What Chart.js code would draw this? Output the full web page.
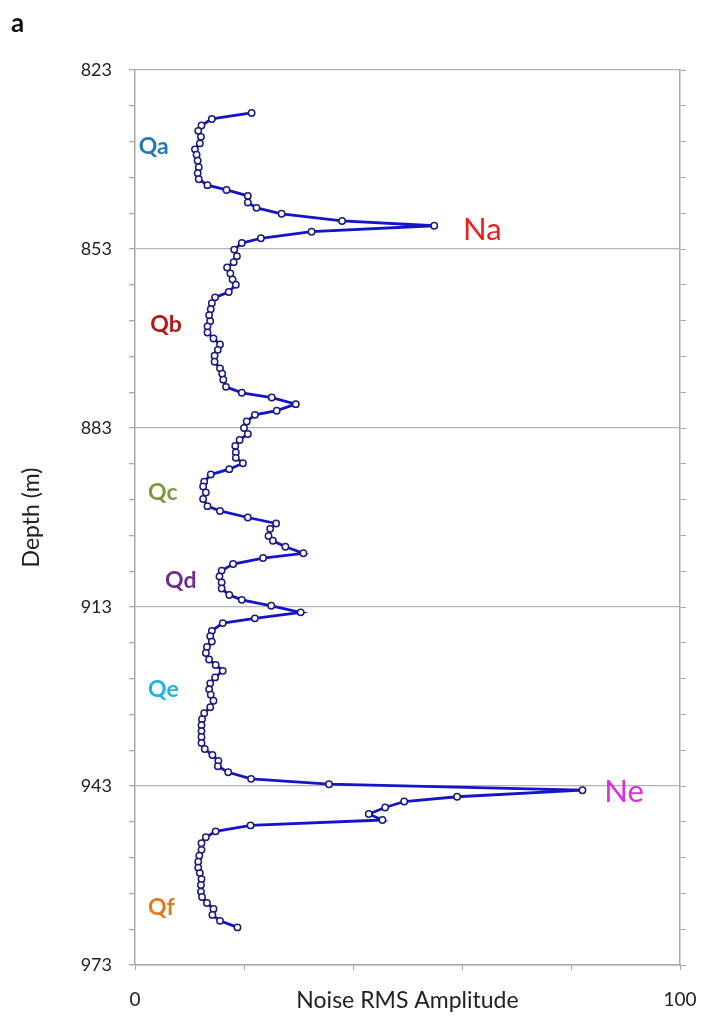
<!DOCTYPE html>
<html>
<head>
<meta charset="utf-8">
<script src="https://cdn.jsdelivr.net/npm/chart.js@4/dist/chart.umd.min.js"></script>
<style>
  html, body { margin: 0; padding: 0; background: #fff; }
  #wrap { position: relative; width: 703px; height: 1022px; }
</style>
</head>
<body>
<div id="wrap"><canvas id="chart"></canvas></div>
<script>
// depth (m) of each sample
const depths = [
  830.2, 831.2, 832.3, 833.2, 834.2, 835.3, 836.3, 837.2, 838.2, 839.3,
  840.3, 841.3, 842.3, 843.1, 844.1, 845.2, 846.1, 847.1, 848.3, 849.1,
  850.1, 851.2, 852.0, 853.1, 854.2, 855.2, 856.1, 857.1, 858.1, 859.0,
  860.2, 861.1, 862.1, 863.1, 864.1, 865.1, 866.0, 867.0, 868.0, 869.0,
  869.9, 870.9, 871.9, 873.0, 873.9, 874.9, 876.1, 877.1, 877.9, 879.0,
  880.1, 880.8, 881.9, 883.0, 884.0, 885.0, 886.0, 887.1, 888.0, 888.9,
  889.9, 890.8, 892.0, 892.8, 893.8, 894.9, 896.1, 896.9, 898.0, 899.0,
  899.9, 901.1, 901.9, 902.9, 904.0, 904.8, 905.8, 906.9, 907.9, 908.9,
  909.9, 911.0, 911.8, 912.8, 913.9, 914.9, 915.7, 917.0, 917.9, 918.8,
  919.7, 920.7, 921.8, 922.7, 923.7, 924.8, 925.8, 926.8, 927.7, 928.7,
  929.8, 930.8, 931.8, 932.8, 933.8, 934.8, 935.8, 936.8, 937.8, 938.8,
  939.7, 940.7, 941.8, 942.7, 943.7, 944.8, 945.6, 946.6, 947.7, 948.7,
  949.6, 950.6, 951.6, 952.6, 953.7, 954.7, 955.7, 956.7, 957.6, 958.6,
  959.6, 960.7, 961.6, 962.6, 963.6, 964.6, 965.6, 966.7
];
// noise RMS amplitude at each depth
const amplitudes = [
  21.4, 14.1, 12.2, 11.6, 12.1, 11.9, 11.0, 11.3, 11.5, 11.7,
  11.5, 11.7, 13.3, 16.8, 20.7, 20.7, 22.3, 26.9, 38.0, 54.9,
  32.4, 23.1, 19.6, 18.2, 18.7, 18.1, 16.9, 17.5, 17.9, 18.5,
  17.2, 14.7, 14.1, 13.9, 13.6, 13.8, 13.3, 13.3, 14.4, 15.6,
  15.2, 14.6, 14.6, 15.6, 16.0, 16.2, 16.7, 19.6, 25.1, 29.5,
  26.0, 22.0, 20.5, 20.0, 20.7, 19.2, 18.4, 18.5, 18.5, 19.8,
  17.3, 13.9, 12.7, 12.5, 13.0, 12.5, 13.3, 15.6, 20.7, 25.9,
  24.8, 24.5, 25.3, 27.6, 30.9, 23.5, 18.0, 15.9, 15.5, 15.9,
  15.9, 17.3, 19.6, 25.0, 30.4, 22.0, 16.1, 14.1, 13.8, 14.1,
  13.2, 13.0, 13.6, 14.8, 16.1, 14.7, 13.8, 13.6, 13.9, 14.4,
  13.8, 12.7, 12.3, 12.2, 12.2, 12.2, 12.2, 12.8, 14.2, 15.3,
  15.2, 17.1, 21.3, 35.6, 82.1, 59.1, 49.4, 45.9, 42.9, 45.4,
  21.2, 14.8, 13.0, 12.2, 12.2, 11.8, 11.6, 11.6, 11.9, 12.2,
  12.1, 12.1, 12.3, 13.2, 14.4, 14.2, 15.6, 18.8
];
const depthLabels = [823, 853, 883, 913, 943, 973];
const amplitudeLabels = [0, 100];

// zone names and where they sit (amplitude, depth)
const zoneLabels = [
  { text: 'Qa', x: 0.7,  y: 835.9, color: '#2478b4', font: 'bold 23px Lato' },
  { text: 'Na', x: 60.2, y: 849.8, color: '#e8211d', font: '31px Lato' },
  { text: 'Qb', x: 2.8,  y: 865.7, color: '#b01a1a', font: 'bold 23px Lato' },
  { text: 'Qc', x: 2.4,  y: 893.9, color: '#7b9a3c', font: 'bold 23px Lato' },
  { text: 'Qd', x: 5.5,  y: 908.5, color: '#6b2d8f', font: 'bold 23px Lato' },
  { text: 'Qe', x: 2.4,  y: 926.9, color: '#1fb2e6', font: 'bold 23px Lato' },
  { text: 'Ne', x: 86.1, y: 944.0, color: '#e22be0', font: '31px Lato' },
  { text: 'Qf', x: 2.4,  y: 963.4, color: '#e07a1e', font: 'bold 23px Lato' }
];

const points = depths.map((d, i) => ({ x: amplitudes[i], y: d }));

// zone names + panel letter
const labelPlugin = {
  id: 'zoneText',
  afterDraw(chart) {
    const c = chart.ctx;
    const sx = chart.scales.x, sy = chart.scales.y;
    c.save();
    c.textBaseline = 'middle';
    c.textAlign = 'left';
    zoneLabels.forEach(z => {
      c.font = z.font;
      c.fillStyle = z.color;
      c.fillText(z.text, sx.getPixelForValue(z.x), sy.getPixelForValue(z.y));
    });
    c.font = 'bold 26px Lato';
    c.fillStyle = '#111';
    c.fillText('a', 11, 24);
    c.restore();
  }
};

const axisGrey = '#a8a8a8';

new Chart(document.getElementById('chart').getContext('2d'), {
  type: 'scatter',
  data: {
    datasets: [{
      data: points,
      showLine: true,
      borderColor: '#1414c8',
      borderWidth: 2.8,
      pointRadius: 3.2,
      pointBackgroundColor: '#ffffff',
      pointBorderColor: '#1c1c78',
      pointBorderWidth: 1.5,
      tension: 0
    }]
  },
  options: {
    responsive: true,
    maintainAspectRatio: false,
    animation: false,
    layout: { padding: { top: 70, right: 0, bottom: 0, left: 0 } },
    plugins: {
      legend: { display: false },
      tooltip: { enabled: false }
    },
    scales: {
      x: {
        type: 'linear',
        position: 'bottom',
        min: 0,
        max: 100,
        afterFit: s => { s.height = 57; s.paddingLeft = 0; s.paddingRight = 0; },
        ticks: {
          stepSize: 20,
          autoSkip: false,
          maxRotation: 0,
          padding: 18,
          color: '#222',
          font: { family: 'Lato', size: 19 },
          callback: v => amplitudeLabels.includes(v) ? String(v) : ''
        },
        grid: { drawOnChartArea: false, tickLength: 5, tickColor: axisGrey },
        border: { color: axisGrey, width: 1.5 },
        title: {
          display: true,
          text: 'Noise RMS Amplitude',
          color: '#222',
          font: { family: 'Lato', size: 23 },
          padding: { top: 0, bottom: 8 }
        }
      },
      y: {
        type: 'linear',
        position: 'left',
        reverse: true,
        min: 823,
        max: 973,
        afterFit: s => { s.width = 135; },
        ticks: {
          stepSize: 6,
          autoSkip: false,
          padding: 17,
          color: '#222',
          font: { family: 'Lato', size: 18 },
          callback: v => depthLabels.includes(v) ? String(v) : ''
        },
        grid: {
          tickLength: 6,
          tickColor: axisGrey,
          color: ctx => (ctx.tick && depthLabels.includes(ctx.tick.value)) ? '#b4b4b4' : 'rgba(0,0,0,0)',
          lineWidth: 1.3
        },
        border: { color: axisGrey, width: 1.5 },
        title: {
          display: true,
          text: 'Depth (m)',
          color: '#222',
          font: { family: 'Lato', size: 23 },
          padding: { top: 18, bottom: 0 }
        }
      },
      y2: {
        type: 'linear',
        position: 'right',
        reverse: true,
        min: 823,
        max: 973,
        afterFit: s => { s.width = 23; },
        ticks: {
          stepSize: 6,
          autoSkip: false,
          callback: () => ''
        },
        grid: { drawOnChartArea: false, tickLength: 6, tickColor: axisGrey },
        border: { color: axisGrey, width: 1.5 }
      }
    }
  },
  plugins: [labelPlugin]
});
</script>
</body>
</html>
